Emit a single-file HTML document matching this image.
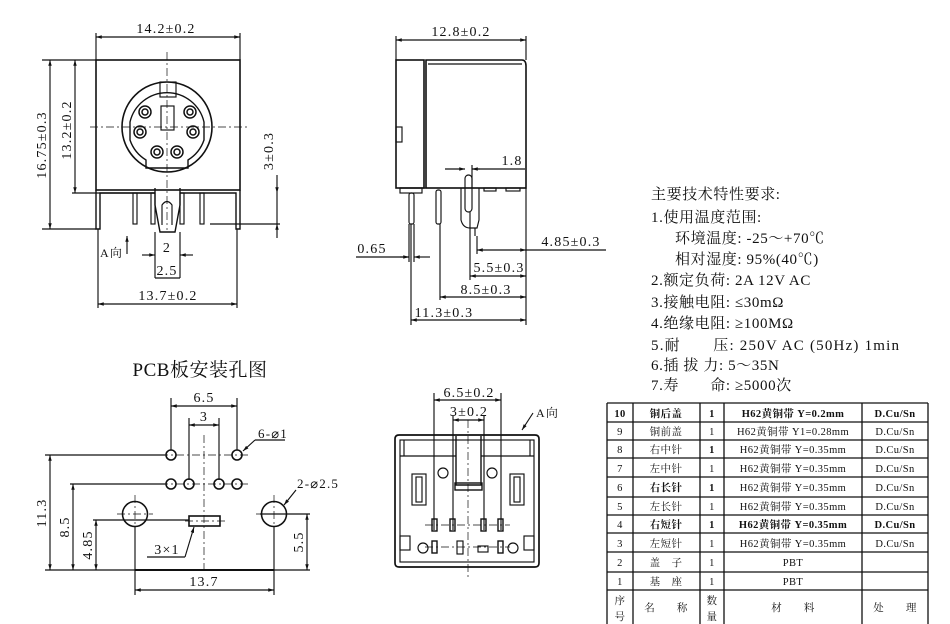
<!DOCTYPE html>
<html><head><meta charset="utf-8"><style>
html,body{margin:0;padding:0;background:#fff;}
svg{display:block;}
text{font-family:"Liberation Serif","Noto Serif CJK SC",serif;fill:#111;}
.c{font-family:"Liberation Serif","Noto Serif CJK SC","Noto Sans CJK SC",serif;}
.d{letter-spacing:1.2px;}
</style></head><body>
<svg width="950" height="624" viewBox="0 0 950 624" xmlns="http://www.w3.org/2000/svg">
<defs>
<marker id="a" viewBox="0 0 10 10" refX="10" refY="5" markerWidth="7" markerHeight="5" orient="auto-start-reverse"><path d="M0,2 L10,5 L0,8z" fill="#111"/></marker>
</defs>
<g stroke="#111" fill="none" stroke-width="1.15">
<!-- FRONT VIEW -->
<line x1="96" y1="37" x2="240" y2="37" marker-start="url(#a)" marker-end="url(#a)"/>
<line x1="96" y1="33" x2="96" y2="60"/><line x1="240" y1="33" x2="240" y2="60"/>
<rect x="96" y="60" width="144" height="130" stroke-width="1.6"/>
<line x1="42" y1="60" x2="96" y2="60"/>
<line x1="50" y1="60" x2="50" y2="229" marker-start="url(#a)" marker-end="url(#a)"/>
<line x1="42" y1="229" x2="96" y2="229"/>
<line x1="75" y1="60" x2="75" y2="193" marker-start="url(#a)" marker-end="url(#a)"/>
<line x1="72" y1="193" x2="155" y2="193"/>
<circle cx="167" cy="127" r="45" stroke-width="1.6"/>
<path d="M130,122 A38,38 0 0 1 204,122 L204,140 A38,38 0 0 1 188,160 L188,168 L146,168 L146,160 A38,38 0 0 1 130,140 Z" stroke-width="1.4"/>
<rect x="160" y="82" width="16" height="15"/>
<rect x="161" y="106" width="13" height="24"/>
<g stroke-width="1.5">
<circle cx="145" cy="112" r="6"/><circle cx="145" cy="112" r="3"/>
<circle cx="190" cy="112" r="6"/><circle cx="190" cy="112" r="3"/>
<circle cx="140" cy="132" r="6"/><circle cx="140" cy="132" r="3"/>
<circle cx="193" cy="132" r="6"/><circle cx="193" cy="132" r="3"/>
<circle cx="157" cy="152" r="6"/><circle cx="157" cy="152" r="3"/>
<circle cx="177" cy="152" r="6"/><circle cx="177" cy="152" r="3"/>
</g>
<line x1="90" y1="127" x2="247" y2="127" stroke-dasharray="8,3,2,3" stroke-width="0.7"/>
<line x1="167" y1="52" x2="167" y2="230" stroke-dasharray="8,3,2,3" stroke-width="0.7"/>
<path d="M96,190 L96,229 L100,229 L100,193 L155,193 M180,193 L236,193 L236,229 L240,229 L240,190" stroke-width="1.4"/>
<rect x="133" y="193" width="4" height="31"/><rect x="200" y="193" width="4" height="31"/>
<rect x="151" y="193" width="4" height="31"/><rect x="180" y="193" width="4" height="31"/>
<path d="M155,188 L155,205 L160,232 L175,232 L180,205 L180,188" stroke-width="1.4"/>
<path d="M162,225 L162,205 Q167,198 172,205 L172,225"/>
<line x1="210" y1="224" x2="280" y2="224"/>
<line x1="277" y1="175" x2="277" y2="193" marker-end="url(#a)"/>
<line x1="277" y1="193" x2="277" y2="224"/>
<line x1="277" y1="224" x2="277" y2="238" marker-start="url(#a)"/>
<line x1="127" y1="254" x2="127" y2="236" marker-end="url(#a)"/>
<line x1="155" y1="232" x2="155" y2="278"/><line x1="180" y1="232" x2="180" y2="278"/>
<line x1="142" y1="255" x2="155" y2="255" marker-end="url(#a)"/><line x1="193" y1="255" x2="180" y2="255" marker-end="url(#a)"/>
<line x1="155" y1="278" x2="180" y2="278"/>
<line x1="98" y1="229" x2="98" y2="308"/><line x1="237" y1="229" x2="237" y2="308"/>
<line x1="98" y1="304" x2="237" y2="304" marker-start="url(#a)" marker-end="url(#a)"/>

<!-- SIDE VIEW -->
<line x1="396" y1="40" x2="526" y2="40" marker-start="url(#a)" marker-end="url(#a)"/>
<line x1="396" y1="36" x2="396" y2="60"/><line x1="526" y1="36" x2="526" y2="60"/>
<rect x="396" y="60" width="28" height="128" stroke-width="1.6"/>
<path d="M426,60 L522,60 Q526,60 526,66 L526,188 L426,188 Z" stroke-width="1.6"/>
<line x1="428" y1="64" x2="522" y2="64"/>
<rect x="396" y="127" width="6" height="15"/>
<line x1="400" y1="188" x2="526" y2="188"/>
<rect x="400" y="188" width="22" height="5"/>
<rect x="409" y="193" width="5" height="31" rx="2"/>
<rect x="436" y="190" width="5" height="34" rx="2"/>
<rect x="465" y="175" width="7" height="37" rx="3.5"/>
<path d="M461,188 L461,220 Q463,228 470,228 L477,228 L479,220 L479,188"/>
<line x1="475" y1="228" x2="475" y2="236"/>
<rect x="484" y="188" width="12" height="3"/><rect x="506" y="188" width="14" height="3"/>
<line x1="445" y1="169" x2="465" y2="169" marker-end="url(#a)"/><line x1="480" y1="169" x2="472" y2="169" marker-end="url(#a)"/>
<line x1="472" y1="169" x2="525" y2="169"/>
<line x1="472" y1="165" x2="472" y2="188"/>
<line x1="526" y1="188" x2="526" y2="325"/>
<line x1="356" y1="257" x2="409" y2="257"/><line x1="400" y1="257" x2="409" y2="257" marker-end="url(#a)"/>
<line x1="430" y1="257" x2="414" y2="257" marker-end="url(#a)"/>
<line x1="409" y1="224" x2="409" y2="262"/><line x1="411" y1="224" x2="411" y2="325"/><line x1="414" y1="224" x2="414" y2="262"/>
<line x1="440" y1="224" x2="440" y2="300"/>
<line x1="470" y1="212" x2="470" y2="280"/>
<line x1="477" y1="236" x2="477" y2="254"/>
<line x1="477" y1="250" x2="526" y2="250" marker-start="url(#a)" marker-end="url(#a)"/><line x1="526" y1="250" x2="606" y2="250"/>
<line x1="470" y1="276" x2="526" y2="276" marker-start="url(#a)" marker-end="url(#a)"/>
<line x1="440" y1="297" x2="526" y2="297" marker-start="url(#a)" marker-end="url(#a)"/>
<line x1="411" y1="320" x2="526" y2="320" marker-start="url(#a)" marker-end="url(#a)"/>

<!-- PCB VIEW -->
<line x1="171" y1="398" x2="171" y2="450"/><line x1="237" y1="398" x2="237" y2="450"/>
<line x1="171" y1="406" x2="237" y2="406" marker-start="url(#a)" marker-end="url(#a)"/>
<line x1="189" y1="418" x2="189" y2="480"/><line x1="219" y1="418" x2="219" y2="480"/>
<line x1="189" y1="425" x2="219" y2="425" marker-start="url(#a)" marker-end="url(#a)"/>
<g stroke-width="1.6">
<circle cx="171" cy="455" r="5"/><circle cx="237" cy="455" r="5"/>
<circle cx="171" cy="484" r="5"/><circle cx="189" cy="484" r="5"/><circle cx="219" cy="484" r="5"/><circle cx="237" cy="484" r="5"/>
<circle cx="135" cy="514" r="12.5"/><circle cx="274" cy="514" r="12.5"/>
<rect x="189" y="516" width="31" height="10"/>
</g>
<g stroke-dasharray="8,3,2,3" stroke-width="0.7">
<line x1="204" y1="435" x2="204" y2="570"/>
<line x1="160" y1="455" x2="248" y2="455"/><line x1="160" y1="484" x2="248" y2="484"/>
<line x1="117" y1="514" x2="153" y2="514"/><line x1="256" y1="514" x2="292" y2="514"/>
<line x1="185" y1="521" x2="225" y2="521"/>
<line x1="135" y1="495" x2="135" y2="533"/><line x1="274" y1="495" x2="274" y2="533"/>
</g>
<line x1="45" y1="455" x2="165" y2="455"/><line x1="70" y1="484" x2="165" y2="484"/>
<line x1="93" y1="520" x2="189" y2="520"/><line x1="260" y1="514" x2="310" y2="514"/>
<line x1="50" y1="455" x2="50" y2="570" marker-start="url(#a)" marker-end="url(#a)"/>
<line x1="73" y1="484" x2="73" y2="570" marker-start="url(#a)" marker-end="url(#a)"/>
<line x1="96" y1="520" x2="96" y2="570" marker-start="url(#a)" marker-end="url(#a)"/>
<line x1="307" y1="514" x2="307" y2="570" marker-start="url(#a)" marker-end="url(#a)"/>
<line x1="45" y1="570" x2="135" y2="570"/><line x1="274" y1="570" x2="310" y2="570"/>
<line x1="135" y1="570" x2="274" y2="570" stroke-width="2"/>
<line x1="135" y1="527" x2="135" y2="595"/><line x1="274" y1="527" x2="274" y2="595"/>
<line x1="135" y1="590" x2="274" y2="590" marker-start="url(#a)" marker-end="url(#a)"/>
<line x1="255" y1="440" x2="243" y2="451" marker-end="url(#a)"/><line x1="255" y1="440" x2="285" y2="440"/>
<line x1="296" y1="490" x2="284" y2="505" marker-end="url(#a)"/>
<line x1="147" y1="557" x2="185" y2="557"/><line x1="185" y1="557" x2="194" y2="527" marker-end="url(#a)"/>

<!-- BOTTOM VIEW -->
<line x1="434" y1="393" x2="434" y2="530"/><line x1="501" y1="393" x2="501" y2="530"/>
<line x1="434" y1="400" x2="501" y2="400" marker-start="url(#a)" marker-end="url(#a)"/>
<line x1="453" y1="415" x2="453" y2="530"/><line x1="484" y1="415" x2="484" y2="530"/>
<line x1="453" y1="420" x2="484" y2="420" marker-start="url(#a)" marker-end="url(#a)"/>
<line x1="533" y1="413" x2="522" y2="430" marker-end="url(#a)"/>
<path d="M399,435 L535,435 Q539,435 539,439 L539,563 Q539,567 535,567 L399,567 Q395,567 395,563 L395,439 Q395,435 399,435 Z" stroke-width="1.7"/>
<rect x="400" y="440" width="134" height="122"/>
<line x1="400" y1="456" x2="456" y2="456"/><line x1="481" y1="456" x2="534" y2="456"/>
<line x1="404" y1="440" x2="404" y2="456"/><line x1="530" y1="440" x2="530" y2="456"/>
<path d="M456,436 L456,485 L481,485 L481,436" stroke-width="1.4"/>
<rect x="455" y="483" width="27" height="7" stroke-width="1.4"/>
<circle cx="443" cy="473" r="5"/><circle cx="492" cy="473" r="5"/>
<rect x="412" y="474" width="14" height="31"/><rect x="416" y="477" width="6" height="25"/>
<rect x="510" y="474" width="14" height="31"/><rect x="514" y="477" width="6" height="25"/>
<rect x="432" y="519" width="5" height="12" stroke-width="1.4"/><rect x="450" y="519" width="5" height="12" stroke-width="1.4"/>
<rect x="481" y="519" width="5" height="12" stroke-width="1.4"/><rect x="498" y="519" width="5" height="12" stroke-width="1.4"/>
<rect x="432" y="541" width="5" height="12" stroke-width="1.4"/><rect x="498" y="541" width="5" height="12" stroke-width="1.4"/>
<rect x="457" y="541" width="6" height="13"/><rect x="478" y="546" width="10" height="6"/>
<circle cx="423" cy="548" r="5"/><circle cx="513" cy="548" r="5"/>
<rect x="400" y="536" width="10" height="14"/><rect x="524" y="536" width="10" height="14"/>
<line x1="468" y1="420" x2="468" y2="578" stroke-dasharray="8,3,2,3" stroke-width="0.7"/>
<line x1="425" y1="525" x2="510" y2="525" stroke-dasharray="8,3,2,3" stroke-width="0.7"/>
<line x1="425" y1="547" x2="510" y2="547" stroke-dasharray="8,3,2,3" stroke-width="0.7"/>

<!-- TABLE -->
<g stroke-width="1.3">
<line x1="607" y1="403" x2="928" y2="403"/>
<line x1="607" y1="422" x2="928" y2="422"/><line x1="607" y1="440" x2="928" y2="440"/>
<line x1="607" y1="458" x2="928" y2="458"/><line x1="607" y1="477" x2="928" y2="477"/>
<line x1="607" y1="497" x2="928" y2="497"/><line x1="607" y1="515" x2="928" y2="515"/>
<line x1="607" y1="533" x2="928" y2="533"/><line x1="607" y1="552" x2="928" y2="552"/>
<line x1="607" y1="572" x2="928" y2="572"/><line x1="607" y1="590" x2="928" y2="590"/>
<line x1="607" y1="403" x2="607" y2="624"/><line x1="633" y1="403" x2="633" y2="624"/>
<line x1="700" y1="403" x2="700" y2="624"/><line x1="724" y1="403" x2="724" y2="624"/>
<line x1="862" y1="403" x2="862" y2="624"/><line x1="928" y1="403" x2="928" y2="624"/>
</g>
</g>

<!-- TEXT -->
<g font-size="14" class="d">
<text x="166" y="33" text-anchor="middle">14.2±0.2</text>
<text transform="translate(46,145) rotate(-90)" text-anchor="middle">16.75±0.3</text>
<text transform="translate(71,130) rotate(-90)" text-anchor="middle">13.2±0.2</text>
<text transform="translate(273,151) rotate(-90)" text-anchor="middle">3±0.3</text>
<text x="100" y="257" font-size="12" class="c">A向</text>
<text x="167" y="252" text-anchor="middle">2</text>
<text x="167" y="275" text-anchor="middle">2.5</text>
<text x="168" y="300" text-anchor="middle">13.7±0.2</text>

<text x="461" y="36" text-anchor="middle">12.8±0.2</text>
<text x="512" y="165" text-anchor="middle">1.8</text>
<text x="372" y="253" text-anchor="middle">0.65</text>
<text x="571" y="246" text-anchor="middle">4.85±0.3</text>
<text x="499" y="272" text-anchor="middle">5.5±0.3</text>
<text x="486" y="294" text-anchor="middle">8.5±0.3</text>
<text x="444" y="317" text-anchor="middle">11.3±0.3</text>

<text x="200" y="376" text-anchor="middle" font-size="19" class="c" letter-spacing="0.5">PCB板安装孔图</text>
<text x="204" y="402" text-anchor="middle">6.5</text>
<text x="204" y="421" text-anchor="middle">3</text>
<text x="258" y="438" font-size="13" class="c">6-⌀1</text>
<text x="297" y="488" font-size="13" class="c">2-⌀2.5</text>
<text x="167" y="554" text-anchor="middle" class="c">3×1</text>
<text transform="translate(46,513) rotate(-90)" text-anchor="middle">11.3</text>
<text transform="translate(69,527) rotate(-90)" text-anchor="middle">8.5</text>
<text transform="translate(92,545) rotate(-90)" text-anchor="middle">4.85</text>
<text transform="translate(303,542) rotate(-90)" text-anchor="middle">5.5</text>
<text x="204" y="586" text-anchor="middle">13.7</text>

<text x="469" y="397" text-anchor="middle">6.5±0.2</text>
<text x="469" y="416" text-anchor="middle">3±0.2</text>
<text x="536" y="417" font-size="12" class="c">A向</text>
</g>

<g font-size="15" class="c" letter-spacing="0.6">
<text x="651" y="199">主要技术特性要求:</text>
<text x="651" y="222">1.使用温度范围:</text>
<text x="675" y="243">环境温度: -25～+70℃</text>
<text x="675" y="264">相对湿度: 95%(40℃)</text>
<text x="651" y="285">2.额定负荷: 2A  12V  AC</text>
<text x="651" y="307">3.接触电阻: ≤30mΩ</text>
<text x="651" y="328">4.绝缘电阻: ≥100MΩ</text>
<text x="651" y="350" letter-spacing="1.2">5.耐　　压: 250V AC (50Hz) 1min</text>
<text x="651" y="370">6.插 拔 力: 5～35N</text>
<text x="651" y="390">7.寿　　命: ≥5000次</text>
</g>

<g font-size="10.5" class="c" text-anchor="middle" letter-spacing="0.4">
<text x="620" y="417" font-weight="bold">10</text><text x="666" y="417" font-weight="bold">铜后盖</text><text x="712" y="417" font-weight="bold">1</text><text x="793" y="417" font-weight="bold">H62黄铜带 Y=0.2mm</text><text x="895" y="417" font-weight="bold">D.Cu/Sn</text>
<text x="620" y="435">9</text><text x="666" y="435">铜前盖</text><text x="712" y="435">1</text><text x="793" y="435">H62黄铜带 Y1=0.28mm</text><text x="895" y="435">D.Cu/Sn</text>
<text x="620" y="453">8</text><text x="666" y="453">右中针</text><text x="712" y="453" font-weight="bold">1</text><text x="793" y="453">H62黄铜带 Y=0.35mm</text><text x="895" y="453">D.Cu/Sn</text>
<text x="620" y="472">7</text><text x="666" y="472">左中针</text><text x="712" y="472">1</text><text x="793" y="472">H62黄铜带 Y=0.35mm</text><text x="895" y="472">D.Cu/Sn</text>
<text x="620" y="491">6</text><text x="666" y="491" font-weight="bold">右长针</text><text x="712" y="491" font-weight="bold">1</text><text x="793" y="491">H62黄铜带 Y=0.35mm</text><text x="895" y="491">D.Cu/Sn</text>
<text x="620" y="510">5</text><text x="666" y="510">左长针</text><text x="712" y="510">1</text><text x="793" y="510">H62黄铜带 Y=0.35mm</text><text x="895" y="510">D.Cu/Sn</text>
<text x="620" y="528">4</text><text x="666" y="528" font-weight="bold">右短针</text><text x="712" y="528" font-weight="bold">1</text><text x="793" y="528" font-weight="bold">H62黄铜带 Y=0.35mm</text><text x="895" y="528" font-weight="bold">D.Cu/Sn</text>
<text x="620" y="547">3</text><text x="666" y="547">左短针</text><text x="712" y="547">1</text><text x="793" y="547">H62黄铜带 Y=0.35mm</text><text x="895" y="547">D.Cu/Sn</text>
<text x="620" y="566">2</text><text x="666" y="566">盖　子</text><text x="712" y="566">1</text><text x="793" y="566">PBT</text>
<text x="620" y="585">1</text><text x="666" y="585">基　座</text><text x="712" y="585">1</text><text x="793" y="585">PBT</text>
<text x="620" y="604">序</text><text x="620" y="620">号</text>
<text x="666" y="611">名　　称</text>
<text x="712" y="604">数</text><text x="712" y="620">量</text>
<text x="793" y="611">材　　料</text>
<text x="895" y="611">处　　理</text>
</g>
</svg>
</body></html>
